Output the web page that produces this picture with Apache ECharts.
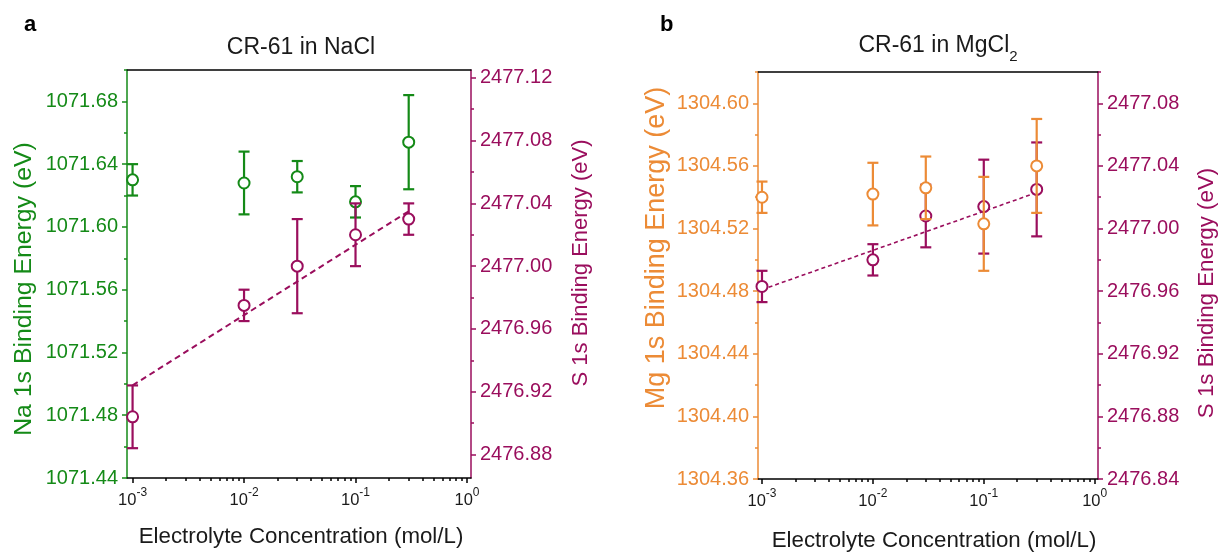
<!DOCTYPE html>
<html><head><meta charset="utf-8">
<script src="https://cdn.jsdelivr.net/npm/echarts@6/dist/echarts.min.js"></script>
<style>html,body{margin:0;padding:0;background:#fff}#c{width:1220px;height:554px}</style>
</head><body><div id="c"></div>
<script>
// ---------- data ----------
const concentrations = [0.001, 0.01, 0.03, 0.1, 0.3];
const naEnergy   = [1071.630, 1071.628, 1071.632, 1071.616, 1071.654];
const naError    = [0.010, 0.020, 0.010, 0.010, 0.030];
const sNaClEnergy = [2476.904, 2476.975, 2477.000, 2477.020, 2477.030];
const sNaClError  = [0.020, 0.010, 0.030, 0.020, 0.010];
const sNaClFitX = [0.001, 0.3];
const sNaClFitY = [2476.924, 2477.035];
const mgEnergy   = [1304.540, 1304.542, 1304.546, 1304.523, 1304.560];
const mgError    = [0.010, 0.020, 0.020, 0.030, 0.030];
const sMgCl2Energy = [2476.963, 2476.980, 2477.008, 2477.014, 2477.025];
const sMgCl2Error  = [0.010, 0.010, 0.020, 0.030, 0.030];
const sMgCl2FitX = [0.001, 0.3];
const sMgCl2FitY = [2476.961, 2477.023];
const xTickExponents = [-3, -2, -1, 0];
const naTicks     = [1071.44, 1071.48, 1071.52, 1071.56, 1071.60, 1071.64, 1071.68];
const sNaClTicks  = [2476.88, 2476.92, 2476.96, 2477.00, 2477.04, 2477.08, 2477.12];
const mgTicks     = [1304.36, 1304.40, 1304.44, 1304.48, 1304.52, 1304.56, 1304.60];
const sMgCl2Ticks = [2476.84, 2476.88, 2476.92, 2476.96, 2477.00, 2477.04, 2477.08];
const naRange = [1071.44, 1071.70];
const sNaClRange = [2476.865, 2477.125];
const mgRange = [1304.36, 1304.62];
const sMgCl2Range = [2476.84, 2477.10];
const xRangeA = [-3.05, 0.036];
const xRangeB = [-3.036, 0.03];

// ---------- style ----------
const FONT = '"Liberation Sans", Arial, sans-serif';
const GREEN = '#148a17';
const PURPLE = '#9a0e5d';
const ORANGE = '#ec8b36';
const BLACK = '#000';
const TXT = '#1a1a1a';

const lg = v => Math.log10(v);

function minorOf(ticks, range) {
  const step = ticks[1] - ticks[0], out = [];
  for (let i = -1; i < ticks.length + 1; i++) {
    const v = +(ticks[0] + (i + 0.5) * step).toFixed(4);
    if (v >= range[0] - 1e-9 && v <= range[1] + 1e-9) out.push(v);
  }
  return out;
}
const xMinor = [];
[-3, -2, -1].forEach(d => { for (let k = 2; k <= 9; k++) xMinor.push(d + lg(k)); });

function yAxes(gridIndex, pos, range, ticks, color) {
  return [{
    type: 'value', gridIndex, position: pos, min: range[0], max: range[1],
    axisLine: { show: true, onZero: false, lineStyle: { color, width: 1.5 } },
    axisTick: { show: true, inside: false, length: 5, customValues: ticks, lineStyle: { color, width: 1.5 } },
    axisLabel: { show: true, customValues: ticks, formatter: v => (+v).toFixed(2), color, fontSize: 20, fontFamily: FONT, margin: 9 },
    splitLine: { show: false }
  }, {
    type: 'value', gridIndex, position: pos, min: range[0], max: range[1],
    axisLine: { show: false, onZero: false },
    axisTick: { show: true, inside: false, length: 3, customValues: minorOf(ticks, range), lineStyle: { color, width: 1.5 } },
    axisLabel: { show: false }, splitLine: { show: false }
  }];
}

function xAxes(gridIndex, range) {
  return [{
    type: 'value', gridIndex, position: 'bottom', min: range[0], max: range[1],
    axisLine: { show: true, onZero: false, lineStyle: { color: BLACK, width: 1.5 } },
    axisTick: { show: true, length: 5, customValues: xTickExponents, lineStyle: { color: BLACK, width: 1.5 } },
    axisLabel: {
      show: true, customValues: xTickExponents, margin: 9,
      formatter: v => '{b|10}{s|' + Math.round(v) + '}',
      rich: {
        b: { fontSize: 16.5, fontFamily: FONT, color: TXT, lineHeight: 22, verticalAlign: 'bottom' },
        s: { fontSize: 12, fontFamily: FONT, color: TXT, lineHeight: 22, verticalAlign: 'top' }
      }
    },
    splitLine: { show: false }
  }, {
    type: 'value', gridIndex, position: 'bottom', min: range[0], max: range[1],
    axisLine: { show: false, onZero: false },
    axisTick: { show: true, length: 3, customValues: xMinor, lineStyle: { color: BLACK, width: 1.5 } },
    axisLabel: { show: false }, splitLine: { show: false }
  }, {
    type: 'value', gridIndex, position: 'top', min: range[0], max: range[1],
    axisLine: { show: true, onZero: false, lineStyle: { color: BLACK, width: 1.5 } },
    axisTick: { show: false }, axisLabel: { show: false }, splitLine: { show: false }
  }];
}

function errorBars(xAxisIndex, yAxisIndex, xs, ys, es, color, z) {
  return {
    type: 'custom', xAxisIndex, yAxisIndex, z, clip: false,
    data: xs.map((x, i) => [lg(x), ys[i] - es[i], ys[i] + es[i]]),
    encode: { x: 0, y: [1, 2] },
    renderItem(params, api) {
      const x = api.value(0);
      const lo = api.coord([x, api.value(1)]);
      const hi = api.coord([x, api.value(2)]);
      const w = 5.5;
      const style = { stroke: color, lineWidth: 2.2, fill: null };
      return { type: 'group', children: [
        { type: 'line', shape: { x1: lo[0], y1: lo[1], x2: hi[0], y2: hi[1] }, style },
        { type: 'line', shape: { x1: lo[0] - w, y1: lo[1], x2: lo[0] + w, y2: lo[1] }, style },
        { type: 'line', shape: { x1: hi[0] - w, y1: hi[1], x2: hi[0] + w, y2: hi[1] }, style }
      ] };
    }
  };
}
function points(xAxisIndex, yAxisIndex, xs, ys, color, z) {
  return {
    type: 'scatter', xAxisIndex, yAxisIndex, z, symbol: 'circle', symbolSize: 11,
    data: xs.map((x, i) => [lg(x), ys[i]]),
    itemStyle: { color: '#fff', borderColor: color, borderWidth: 2, opacity: 1 },
    emphasis: { disabled: true }
  };
}
function fit(xAxisIndex, yAxisIndex, xs, ys, color, width, dash, z) {
  return {
    type: 'line', xAxisIndex, yAxisIndex, z, symbol: 'none',
    data: xs.map((x, i) => [lg(x), ys[i]]),
    lineStyle: { color, width, type: dash }
  };
}
function vText(x, y, text, color, size) {
  return { type: 'text', x, y, rotation: Math.PI / 2,
    style: { text, fill: color, fontSize: size, fontFamily: FONT, align: 'center', verticalAlign: 'middle' } };
}
function hText(x, y, text, color, size, weight) {
  return { type: 'text', x, y,
    style: { text, fill: color, fontSize: size, fontFamily: FONT, fontWeight: weight || 'normal', align: 'center', verticalAlign: 'middle' } };
}

const chart = echarts.init(document.getElementById('c'), null, { renderer: 'canvas' });

// grid0 x: 0 main,1 minor,2 top ; grid1 x: 3,4,5
// grid0 y: 0 Na,1 Na minor,2 S,3 S minor ; grid1 y: 4 Mg,5 Mg minor,6 S,7 S minor
const option = {
  animation: false,
  backgroundColor: '#fff',
  grid: [
    { left: 127, right: 749, top: 70, bottom: 76 },
    { left: 758, right: 122, top: 72, bottom: 75 }
  ],
  xAxis: [...xAxes(0, xRangeA), ...xAxes(1, xRangeB)],
  yAxis: [
    ...yAxes(0, 'left', naRange, naTicks, GREEN),
    ...yAxes(0, 'right', sNaClRange, sNaClTicks, PURPLE),
    ...yAxes(1, 'left', mgRange, mgTicks, ORANGE),
    ...yAxes(1, 'right', sMgCl2Range, sMgCl2Ticks, PURPLE)
  ],
  series: [
    errorBars(0, 0, concentrations, naEnergy, naError, GREEN, 2),
    points(0, 0, concentrations, naEnergy, GREEN, 3),
    fit(0, 2, sNaClFitX, sNaClFitY, PURPLE, 2, [6, 4], 4),
    errorBars(0, 2, concentrations, sNaClEnergy, sNaClError, PURPLE, 5),
    points(0, 2, concentrations, sNaClEnergy, PURPLE, 6),
    fit(3, 6, sMgCl2FitX, sMgCl2FitY, PURPLE, 1.6, [4, 3], 2),
    errorBars(3, 6, concentrations, sMgCl2Energy, sMgCl2Error, PURPLE, 3),
    points(3, 6, concentrations, sMgCl2Energy, PURPLE, 4),
    errorBars(3, 4, concentrations, mgEnergy, mgError, ORANGE, 5),
    points(3, 4, concentrations, mgEnergy, ORANGE, 6)
  ],
  graphic: [
    { type: 'text', x: 24, y: 14, style: { text: 'a', fontSize: 22, fontWeight: 'bold', fontFamily: FONT, fill: '#000' } },
    { type: 'text', x: 660, y: 14, style: { text: 'b', fontSize: 22, fontWeight: 'bold', fontFamily: FONT, fill: '#000' } },
    hText(301, 48, 'CR-61 in NaCl', TXT, 23),
    { type: 'text', x: 938, y: 49, style: {
        text: '{m|CR-61 in MgCl}{sub|2}', align: 'center', verticalAlign: 'middle',
        rich: {
          m: { fontSize: 23, fontFamily: FONT, fill: TXT, color: TXT, lineHeight: 30, verticalAlign: 'top' },
          sub: { fontSize: 15, fontFamily: FONT, fill: TXT, color: TXT, lineHeight: 30, verticalAlign: 'bottom', padding: [12, 0, 0, 0] }
        } } },
    vText(24, 289, 'Na 1s Binding Energy (eV)', GREEN, 24.8),
    vText(581, 263, 'S 1s Binding Energy (eV)', PURPLE, 22),
    vText(657, 248, 'Mg 1s Binding Energy (eV)', ORANGE, 27),
    vText(1207, 293, 'S 1s Binding Energy (eV)', PURPLE, 22.3),
    hText(301, 537, 'Electrolyte Concentration (mol/L)', TXT, 22.3),
    hText(934, 541, 'Electrolyte Concentration (mol/L)', TXT, 22.3)
  ]
};
chart.setOption(option);
</script>
</body></html>
